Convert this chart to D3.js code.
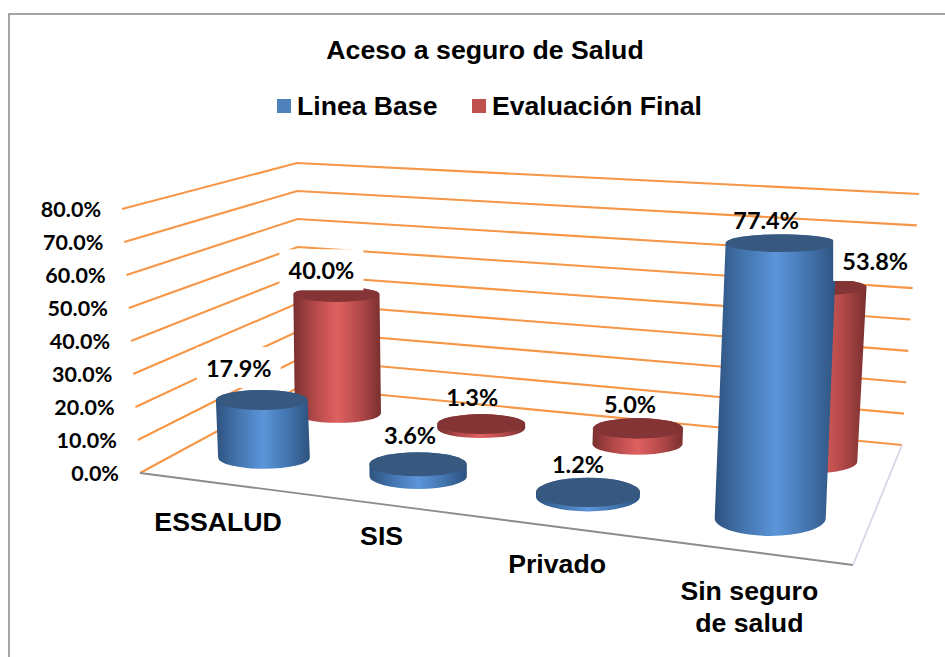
<!DOCTYPE html>
<html>
<head>
<meta charset="utf-8">
<script src="https://cdn.jsdelivr.net/npm/d3@7"></script>
<style>
html, body { margin: 0; padding: 0; background: #fff; }
svg { display: block; }
</style>
</head>
<body>
<div id="chart"></div>
<script>
var categories = ["ESSALUD", "SIS", "Privado", "Sin seguro de salud"];
var seriesNames = ["Linea Base", "Evaluación Final"];
var lineaBase = [17.9, 3.6, 1.2, 77.4];
var evaluacionFinal = [40.0, 1.3, 5.0, 53.8];
var yTicks = [0, 10, 20, 30, 40, 50, 60, 70, 80];

var width = 945, height = 657;

var svg = d3.select("#chart").append("svg")
    .attr("width", width).attr("height", height);

// corners of the chart floor on screen, and where 80% sits above each one
var FL = [140, 473], BL = [299, 387], BR = [902, 445], FR = [853, 565];
var upFL = [-18, -264], upBL = [-2, -224], upBR = [17, -251], upFR = [14, -301];

// floor homography, unit square -> screen
function makeHomography(p00, p10, p11, p01) {
    var dx1 = p10[0] - p11[0], dx2 = p01[0] - p11[0], sx = p00[0] - p10[0] + p11[0] - p01[0];
    var dy1 = p10[1] - p11[1], dy2 = p01[1] - p11[1], sy = p00[1] - p10[1] + p11[1] - p01[1];
    var det = dx1 * dy2 - dx2 * dy1;
    var g = (sx * dy2 - dx2 * sy) / det, h = (dx1 * sy - sx * dy1) / det;
    var a = p10[0] - p00[0] + g * p10[0], b = p01[0] - p00[0] + h * p01[0];
    var d = p10[1] - p00[1] + g * p10[1], e = p01[1] - p00[1] + h * p01[1];
    return function(u, v) {
        var w = g * u + h * v + 1;
        return [(a * u + b * v + p00[0]) / w, (d * u + e * v + p00[1]) / w];
    };
}
var floor = makeHomography(FL, FR, BR, BL);

var yScale = d3.scaleLinear().domain([0, 80]).range([0, 1]);
var uScale = d3.scaleBand().domain(categories).range([0, 1]);
var vScale = d3.scaleBand().domain(seriesNames).range([0, 1]);

// u along categories, v is depth, value in percent
function project(u, v, value) {
    var p = floor(u, v);
    var t = yScale(value);
    var ux = (1 - u) * (1 - v) * upFL[0] + u * (1 - v) * upFR[0] + u * v * upBR[0] + (1 - u) * v * upBL[0];
    var uy = (1 - u) * (1 - v) * upFL[1] + u * (1 - v) * upFR[1] + u * v * upBR[1] + (1 - u) * v * upBL[1];
    return [p[0] + ux * t, p[1] + uy * t];
}

var defs = svg.append("defs");
function sideGradient(id, edge, mid, light) {
    var g = defs.append("linearGradient").attr("id", id);
    [[0, edge], [0.25, mid], [0.5, light], [0.75, mid], [1, edge]].forEach(function(s) {
        g.append("stop").attr("offset", s[0]).attr("stop-color", s[1]);
    });
}
sideGradient("blueSide", "#2e527f", "#4476b0", "#5c95da");
sideGradient("redSide", "#7a2f2f", "#b54a4a", "#e06060");

var colors = {
    "Linea Base": {side: "url(#blueSide)", top: "#37587f", legend: "#4f81bd"},
    "Evaluación Final": {side: "url(#redSide)", top: "#843434", legend: "#c0504d"}
};

// outer frame, no right side in the original
svg.append("path")
    .attr("d", "M9,657V14H945")
    .attr("fill", "none").attr("stroke", "#868686").attr("stroke-width", 1.5);

// title and legend
svg.append("text").attr("x", 485).attr("y", 59).attr("text-anchor", "middle")
    .attr("font-family", "Liberation Sans").attr("font-weight", "bold").attr("font-size", 26.7)
    .text("Aceso a seguro de Salud");

var legendX = [277, 472];
seriesNames.forEach(function(name, i) {
    svg.append("rect").attr("x", legendX[i]).attr("y", 99).attr("width", 14).attr("height", 14)
        .attr("fill", colors[name].legend);
    svg.append("text").attr("x", legendX[i] + 20).attr("y", 115)
        .attr("font-family", "Liberation Sans").attr("font-weight", "bold").attr("font-size", 26.6)
        .text(name);
});

// grid on both walls
var grid = svg.append("g").attr("fill", "none").attr("stroke", "#f79646").attr("stroke-width", 2.1);
var gridLine = d3.line();
grid.selectAll("path").data(yTicks).join("path")
    .attr("d", function(d) {
        return gridLine([project(0, 0, d), project(0, 1, d), project(1, 1, d)]);
    });

// floor edges
svg.append("path").attr("d", gridLine([FL, FR])).attr("stroke", "#8c8c8c").attr("stroke-width", 1.8).attr("fill", "none");
svg.append("path").attr("d", gridLine([FR, BR])).attr("stroke", "#d9d5e6").attr("stroke-width", 1.8).attr("fill", "none");

// y tick labels
svg.append("g").selectAll("text").data(yTicks).join("text")
    .attr("x", function(d) { return project(0, 0, d)[0] - 21; })
    .attr("y", function(d) { return project(0, 0, d)[1] + 8; })
    .attr("text-anchor", "end")
    .attr("font-family", "Lato").attr("font-weight", "bold").attr("font-size", 21.5)
    .text(function(d) { return d3.format(".1f")(d) + "%"; });

// category labels, placed by hand below the front edge
var catOffset = [[4, 48], [8, 42], [7, 47], [3, 49]];
var catLines = categories.map(function(c) { return c === "Sin seguro de salud" ? ["Sin seguro", "de salud"] : [c]; });
var catLabels = svg.append("g").selectAll("text").data(categories).join("text")
    .attr("x", function(d, i) { return floor(uScale(d) + uScale.bandwidth() / 2, 0)[0] + catOffset[i][0]; })
    .attr("y", function(d, i) { return floor(uScale(d) + uScale.bandwidth() / 2, 0)[1] + catOffset[i][1]; })
    .attr("text-anchor", "middle")
    .attr("font-family", "Liberation Sans").attr("font-weight", "bold").attr("font-size", 26.7);
catLabels.selectAll("tspan").data(function(d, i) { return catLines[i]; }).join("tspan")
    .attr("dy", function(d, i) { return i ? 32 : 0; })
    .attr("x", function(d, i, n) { return d3.select(n[i].parentNode).attr("x"); })
    .text(function(d) { return d; });

// flatter ellipses higher up the picture, wider nearer the viewer
var flatten = d3.scaleLinear().domain([250, 460, 520]).range([0.16, 0.24, 0.32]).clamp(true);
var radius = d3.scaleLinear().domain([412, 460, 515]).range([43, 46, 55]);
var uShift = 0.012;

function cylinder(g, cat, name, value, nudge) {
    var u = uScale(cat) + uScale.bandwidth() / 2 + uShift + nudge;
    var v = vScale(name) + vScale.bandwidth() / 2;
    var b = project(u, v, 0), t = project(u, v, value);
    var rb = radius(b[1]);
    var rt = rb;
    var kb = rb * flatten(b[1]), kt = rt * flatten(t[1]);
    var c = colors[name];
    g.append("path")
        .attr("d", "M" + (t[0] - rt) + "," + t[1] +
            "L" + (b[0] - rb) + "," + b[1] +
            "A" + rb + "," + kb + " 0 0 0 " + (b[0] + rb) + "," + b[1] +
            "L" + (t[0] + rt) + "," + t[1] +
            "A" + rt + "," + kt + " 0 0 0 " + (t[0] - rt) + "," + t[1] + "Z")
        .attr("fill", c.side);
    g.append("ellipse")
        .attr("cx", t[0]).attr("cy", t[1]).attr("rx", rt).attr("ry", kt)
        .attr("fill", c.top);
    return t;
}

// back row first so the front row covers it
var bars = svg.append("g");
var tops = {};
categories.forEach(function(cat, i) {
    tops["Evaluación Final" + i] = cylinder(bars, cat, "Evaluación Final", evaluacionFinal[i], 0.003 * (i === 3));
});
categories.forEach(function(cat, i) {
    // last front bar sits a little left of where the perspective puts it
    tops["Linea Base" + i] = cylinder(bars, cat, "Linea Base", lineaBase[i], -0.007 * (i === 3));
});

// data labels, offsets from the top of each cylinder
var blueOffset = [[-23, -31], [-8, -28], [-10, -27], [-15, -22]];
var redOffset = [[-15, -23], [-9, -26], [-8, -23], [55, -25]];
var blueBox = [true, false, false, false];
var redBox = [true, false, false, true];

function dataLabel(top, value, off, boxed) {
    var cx = top[0] + off[0], cy = top[1] + off[1];
    if (boxed) {
        svg.append("rect").attr("x", cx - 42).attr("y", cy - 22).attr("width", 84).attr("height", 41)
            .attr("fill", "#fff");
    }
    svg.append("text").attr("x", cx).attr("y", cy + 8).attr("text-anchor", "middle")
        .attr("font-family", "Lato").attr("font-weight", "bold").attr("font-size", 23.5)
        .text(d3.format(".1f")(value) + "%");
}
lineaBase.forEach(function(d, i) { dataLabel(tops["Linea Base" + i], d, blueOffset[i], blueBox[i]); });
evaluacionFinal.forEach(function(d, i) { dataLabel(tops["Evaluación Final" + i], d, redOffset[i], redBox[i]); });
</script>
</body>
</html>
